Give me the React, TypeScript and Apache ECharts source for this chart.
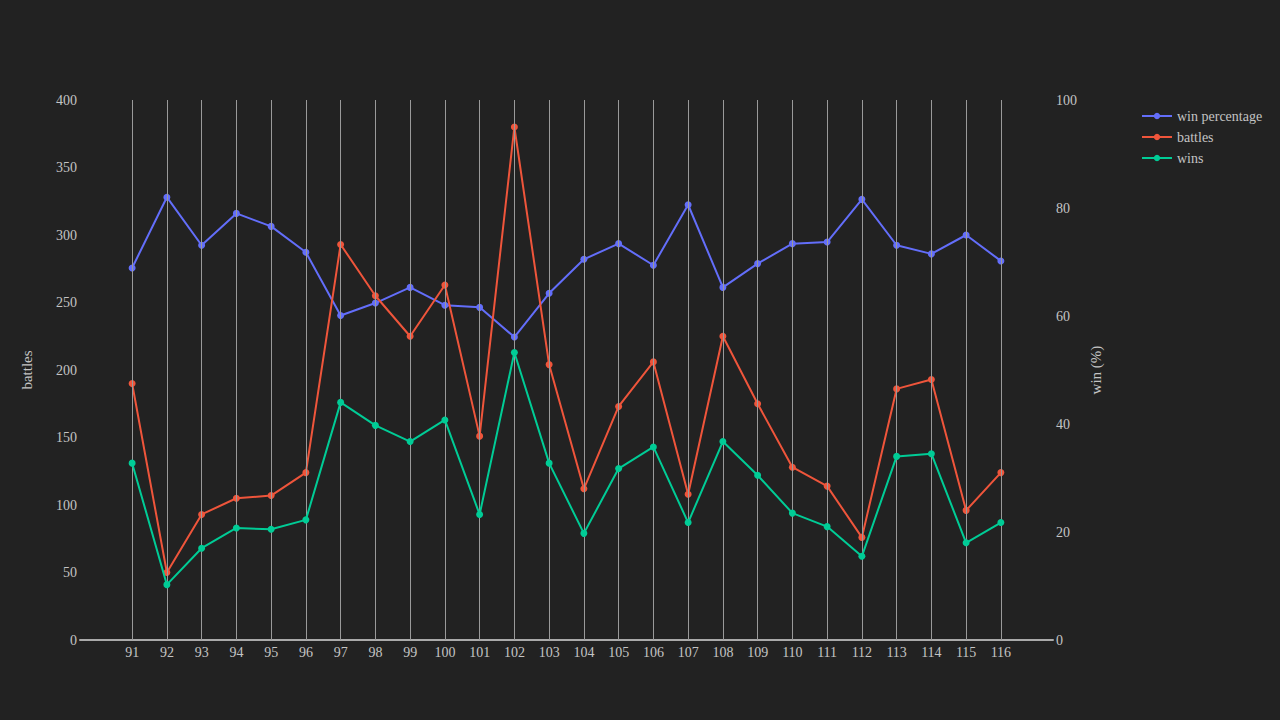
import React, { useEffect, useRef } from "react";
import * as echarts from "echarts";

const categories = [91, 92, 93, 94, 95, 96, 97, 98, 99, 100, 101, 102, 103, 104, 105, 106, 107, 108, 109, 110, 111, 112, 113, 114, 115, 116];
const battles = [190, 50, 93, 105, 107, 124, 293, 255, 225, 263, 151, 380, 204, 112, 173, 206, 108, 225, 175, 128, 114, 76, 186, 193, 96, 124];
const wins = [131, 41, 68, 83, 82, 89, 176, 159, 147, 163, 93, 213, 131, 79, 127, 143, 87, 147, 122, 94, 84, 62, 136, 138, 72, 87];
const winPct = [68.9, 82.0, 73.1, 79.0, 76.6, 71.8, 60.1, 62.4, 65.3, 62.0, 61.6, 56.1, 64.2, 70.5, 73.4, 69.4, 80.6, 65.3, 69.7, 73.4, 73.7, 81.6, 73.1, 71.5, 75.0, 70.2];
const leftTicks = [0, 50, 100, 150, 200, 250, 300, 350, 400];
const rightTicks = [0, 20, 40, 60, 80, 100];

const FONT = "'Liberation Serif', 'Times New Roman', serif";
const TEXT = "#c4c4c4";

export default function App() {
  const ref = useRef<HTMLDivElement>(null);
  useEffect(() => {
    if (!ref.current) return;
    const chart = echarts.init(ref.current, null, { renderer: "svg" });
    const pair = (vals: number[]) => categories.map((c, i) => [c, vals[i]]);
    chart.setOption({
      animation: false,
      backgroundColor: "#222222",
      textStyle: { fontFamily: FONT },
      grid: { left: 80, right: 227, top: 100, bottom: 80 },
      legend: {
        orient: "vertical",
        left: 1136,
        top: 104,
        itemWidth: 30,
        itemHeight: 8,
        itemGap: 7,
        textStyle: { color: TEXT, fontSize: 14, fontFamily: FONT },
        data: ["win percentage", "battles", "wins"],
      },
      xAxis: {
        type: "value",
        min: 89.5,
        max: 117.5,
        axisLine: { show: true, lineStyle: { color: "#aaaaaa", width: 2 } },
        axisTick: { show: false },
        splitLine: { show: false },
        axisLabel: {
          customValues: categories,
          color: TEXT,
          fontSize: 14,
          fontFamily: FONT,
          margin: 5,
        },
      },
      yAxis: [
        {
          type: "value",
          min: leftTicks[0],
          max: leftTicks[leftTicks.length - 1],
          interval: 50,
          name: "battles",
          nameLocation: "middle",
          nameGap: 46,
          nameTextStyle: { color: TEXT, fontSize: 15, fontFamily: FONT },
          axisLine: { show: false },
          axisTick: { show: false },
          splitLine: { show: false },
          axisLabel: { color: TEXT, fontSize: 14, fontFamily: FONT, margin: 3 },
        },
        {
          type: "value",
          position: "right",
          min: rightTicks[0],
          max: rightTicks[rightTicks.length - 1],
          interval: 20,
          name: "win (%)",
          nameLocation: "middle",
          nameGap: 35,
          nameTextStyle: { color: TEXT, fontSize: 15, fontFamily: FONT },
          axisLine: { show: false },
          axisTick: { show: false },
          splitLine: { show: false },
          axisLabel: { color: TEXT, fontSize: 14, fontFamily: FONT, margin: 3 },
        },
      ],
      series: [
        {
          name: "gridlines",
          type: "line",
          data: [],
          z: 1,
          silent: true,
          markLine: {
            silent: true,
            symbol: ["none", "none"],
            label: { show: false },
            lineStyle: { color: "#9a9a9a", width: 1, type: "solid" },
            data: categories.map((c) => ({ xAxis: c })),
          },
        },
        {
          name: "win percentage",
          type: "line",
          yAxisIndex: 1,
          data: pair(winPct),
          symbol: "circle",
          symbolSize: 7,
          z: 3,
          itemStyle: { color: "#636efa" },
          lineStyle: { color: "#636efa", width: 2 },
        },
        {
          name: "battles",
          type: "line",
          yAxisIndex: 0,
          data: pair(battles),
          symbol: "circle",
          symbolSize: 7,
          z: 4,
          itemStyle: { color: "#ef553b" },
          lineStyle: { color: "#ef553b", width: 2 },
        },
        {
          name: "wins",
          type: "line",
          yAxisIndex: 0,
          data: pair(wins),
          symbol: "circle",
          symbolSize: 7,
          z: 5,
          itemStyle: { color: "#00cc96" },
          lineStyle: { color: "#00cc96", width: 2 },
        },
      ],
    });
    return () => chart.dispose();
  }, []);
  return (
    <div
      ref={ref}
      style={{ position: "fixed", left: 0, top: 0, width: 1280, height: 720 }}
    />
  );
}
